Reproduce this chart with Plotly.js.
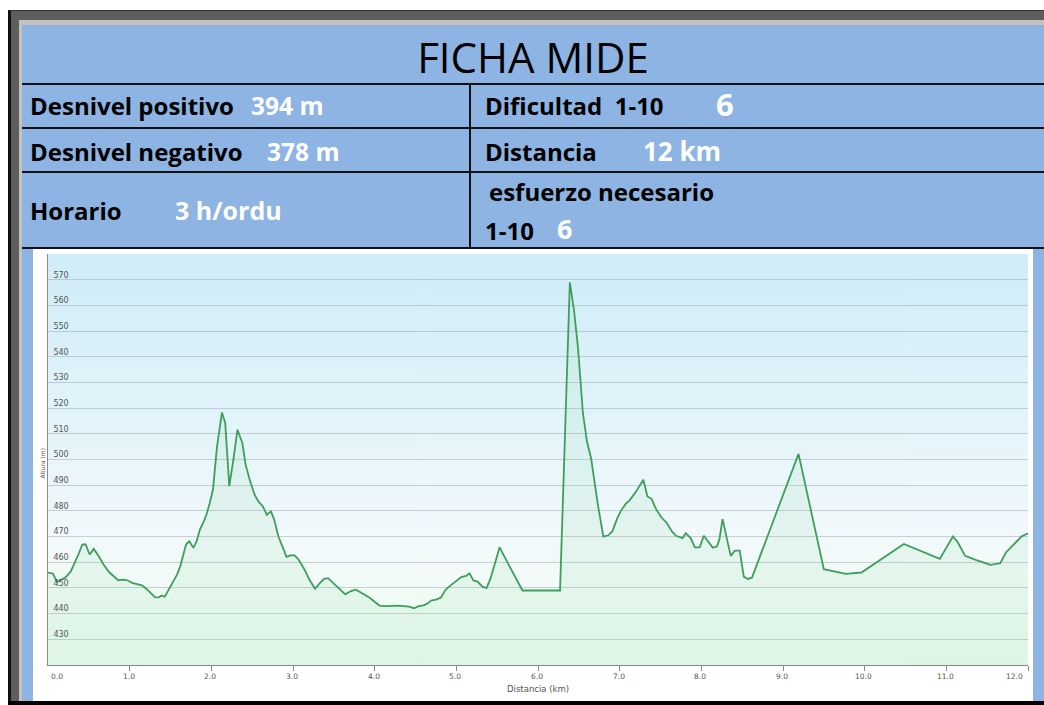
<!DOCTYPE html>
<html>
<head>
<meta charset="utf-8">
<script src="https://cdn.plot.ly/plotly-3.0.1.min.js"></script>
<style>
  html,body{margin:0;padding:0;}
  body{width:1044px;height:705px;overflow:hidden;position:relative;background:#fff;font-family:"Open Sans",sans-serif;}
  .abs{position:absolute;}
  .t{position:absolute;white-space:nowrap;font-weight:700;font-size:24px;line-height:30px;height:30px;color:#000;}
  .w{color:#fff;}
</style>
</head>
<body>
<div class="abs" style="left:8px;top:10px;right:0;bottom:0;background:#5e5e5e;border-left:3px solid #111;border-top:1px solid #333;"></div>
<div class="abs" style="left:19px;top:20px;right:0;bottom:4px;background:#c2c2c2;"></div>
<div class="abs" style="left:22px;top:25px;right:0;bottom:4px;background:#8db4e2;"></div>
<div class="abs" style="left:8px;right:0;top:701px;bottom:0;background:#000;"></div>

<!-- table lines -->
<div class="abs" style="left:22px;right:0;top:83px;height:2px;background:#111;"></div>
<div class="abs" style="left:22px;right:0;top:127px;height:2px;background:#111;"></div>
<div class="abs" style="left:22px;right:0;top:171px;height:2px;background:#111;"></div>
<div class="abs" style="left:22px;right:0;top:247px;height:2px;background:#111;"></div>
<div class="abs" style="left:469px;width:2px;top:84px;height:164px;background:#111;"></div>

<!-- table text -->
<div class="t" style="left:0;width:1066px;text-align:center;top:32px;height:50px;line-height:50px;font-size:42px;font-weight:500;">FICHA MIDE</div>

<div class="t" style="left:30px;top:91px;">Desnivel positivo</div>
<div class="t w" style="left:251px;top:91px;font-size:24.5px;">394 m</div>
<div class="t" style="left:485px;top:91px;">Dificultad&nbsp; 1-10</div>
<div class="t w" style="left:716px;top:89px;font-size:31px;">6</div>

<div class="t" style="left:30px;top:137px;">Desnivel negativo</div>
<div class="t w" style="left:267px;top:137px;font-size:24.5px;">378 m</div>
<div class="t" style="left:485px;top:137px;">Distancia</div>
<div class="t w" style="left:643px;top:136px;font-size:26px;">12 km</div>

<div class="t" style="left:30px;top:196px;">Horario</div>
<div class="t w" style="left:175px;top:195px;font-size:25px;">3 h/ordu</div>
<div class="t" style="left:489px;top:177px;">esfuerzo necesario</div>
<div class="t" style="left:485px;top:216px;">1-10</div>
<div class="t w" style="left:557px;top:214px;font-size:27px;">6</div>

<div id="chart" class="abs" style="left:33px;top:249px;width:1000px;height:452px;background:#fff;"></div>

<script>
const distKm = [
  0.00,0.06,0.11,0.21,0.28,0.34,0.38,0.42,0.46,0.51,0.56,0.62,0.68,0.75,0.81,0.86,0.93,0.98,
  1.03,1.10,1.15,1.20,1.26,1.31,1.35,1.39,1.43,1.48,1.53,1.58,1.62,1.66,1.69,1.73,1.78,1.82,
  1.86,1.90,1.94,1.98,2.02,2.07,2.13,2.17,2.22,2.27,2.32,2.38,2.42,2.47,2.53,2.58,2.63,2.68,
  2.73,2.77,2.82,2.87,2.92,2.97,3.02,3.07,3.14,3.20,3.27,3.32,3.38,3.43,3.48,3.54,3.60,3.64,
  3.71,3.77,3.82,3.88,3.94,4.00,4.06,4.13,4.20,4.28,4.36,4.42,4.48,4.54,4.60,4.65,4.69,4.75,
  4.81,4.87,4.93,5.01,5.06,5.12,5.16,5.21,5.26,5.32,5.37,5.42,5.53,5.67,5.81,6.27,6.39,6.44,
  6.49,6.55,6.60,6.65,6.73,6.80,6.86,6.91,6.97,7.02,7.08,7.12,7.20,7.29,7.34,7.39,7.45,7.51,
  7.58,7.64,7.69,7.77,7.81,7.87,7.92,7.98,8.03,8.09,8.14,8.19,8.22,8.26,8.32,8.36,8.41,8.47,
  8.52,8.57,8.62,9.19,9.50,9.77,9.96,10.48,10.92,11.08,11.14,11.23,11.36,11.54,11.66,11.73,
  11.92,12.00
];
const altM = [
  456.0,455.6,452.3,454.0,456.5,460.4,463.6,466.9,467.0,463.0,465.2,462.4,459.1,456.1,454.2,453.0,453.2,452.9,
  452.0,451.3,451.0,449.8,447.8,446.4,446.3,447.0,446.6,449.4,452.4,455.2,458.5,463.0,466.9,468.2,465.6,468.2,
  472.7,475.3,478.5,483.0,488.3,505.1,518.3,514.2,489.6,500.0,511.6,506.4,498.0,492.1,486.3,483.5,481.8,478.5,
  479.8,476.6,470.1,466.2,462.1,462.7,462.7,461.0,457.2,453.3,449.7,451.6,453.5,453.8,452.3,450.7,448.8,447.5,
  448.8,449.3,448.4,447.2,446.2,444.6,443.1,442.9,443.1,443.1,442.9,442.7,442.1,442.9,443.2,444.0,445.1,445.4,
  446.2,449.4,451.0,453.1,454.2,454.7,455.7,452.9,452.5,450.5,449.9,453.8,465.8,457.3,449.0,449.0,569.0,558.3,
  543.4,518.1,507.0,500.5,483.0,470.0,470.5,472.0,477.1,480.3,483.0,484.0,487.5,492.1,485.6,484.7,480.4,477.5,
  475.2,472.0,470.3,469.4,471.3,469.4,465.8,465.8,470.3,467.8,465.7,466.1,468.7,476.8,467.4,462.5,464.5,464.5,
  454.4,453.5,454.0,502.2,457.3,455.5,456.0,467.1,461.3,470.0,467.8,462.5,460.9,459.0,459.6,463.8,
  470.0,471.3
];
const xTickVals = [0,1,2,3,4,5,6,7,8,9,10,11,12];
const xTickText = ['0.0','1.0','2.0','3.0','4.0','5.0','6.0','7.0','8.0','9.0','10.0','11.0','12.0'];
const yTickVals = [430,440,450,460,470,480,490,500,510,520,530,540,550,560,570];
const xRange = [0, 12];
const yRange = [420, 580];

function gradientURL(){
  const c = document.createElement('canvas');
  c.width = 4; c.height = 412;
  const g = c.getContext('2d');
  const gr = g.createLinearGradient(0,0,0,412);
  gr.addColorStop(0.00,'#cfecf8');
  gr.addColorStop(0.35,'#e0f3fa');
  gr.addColorStop(0.68,'#f2f9fc');
  gr.addColorStop(0.78,'#f3fbf8');
  gr.addColorStop(1.00,'#eafbef');
  g.fillStyle = gr;
  g.fillRect(0,0,4,412);
  return c.toDataURL();
}

const trace = {
  x: distKm, y: altM, type: 'scatter', mode: 'lines',
  line: {color: '#3f9e5c', width: 1.8},
  fill: 'tozeroy', fillcolor: 'rgba(110,205,135,0.10)',
  hoverinfo: 'skip'
};

// x tick labels as axis-anchored annotations (first label left-aligned, last right-aligned, as in the reference)
const xLabelAnns = xTickVals.map((v, i) => ({
  text: xTickText[i], xref: 'x', yref: 'paper', x: v, y: 0,
  xanchor: i === 0 ? 'left' : (i === xTickVals.length - 1 ? 'right' : 'center'),
  xshift: i === 0 ? 1 : (i === xTickVals.length - 1 ? -3 : -1),
  yanchor: 'top', yshift: -5, showarrow: false,
  font: {family: 'DejaVu Sans', size: 7.5, color: '#555'}
}));

const layout = {
  width: 1000, height: 452,
  margin: {l: 15, r: 5, t: 5, b: 36, pad: 0},
  paper_bgcolor: '#ffffff',
  plot_bgcolor: 'rgba(0,0,0,0)',
  showlegend: false,
  images: [{source: gradientURL(), xref: 'paper', yref: 'paper', x: 0, y: 1, sizex: 1, sizey: 1,
            sizing: 'stretch', xanchor: 'left', yanchor: 'top', layer: 'below'}],
  xaxis: {
    range: xRange, tickvals: xTickVals, showticklabels: false,
    ticks: 'outside', ticklen: 5, tickcolor: '#8a8a8a', tickwidth: 1,
    showline: true, linecolor: '#8a8a8a', linewidth: 1,
    showgrid: false, zeroline: false, fixedrange: true
  },
  yaxis: {
    range: yRange, tickvals: yTickVals,
    ticklabelposition: 'inside', ticklabelshift: -5, ticklabelstandoff: 4,
    ticks: '', showline: true, linecolor: '#8a8a8a', linewidth: 1,
    showgrid: true, gridcolor: 'rgba(150,162,168,0.48)', gridwidth: 1,
    zeroline: false, fixedrange: true,
    tickfont: {family: 'DejaVu Sans', size: 8, color: '#555'}
  },
  annotations: [
    {text: 'Altura (m)', xref: 'paper', yref: 'paper', x: 0, y: 0.5, xanchor: 'center', yanchor: 'middle',
     xshift: -6, yshift: -4, textangle: -90, showarrow: false,
     font: {family: 'DejaVu Sans', size: 6, color: '#555'}},
    {text: 'Distancia (km)', xref: 'paper', yref: 'paper', x: 0.5, y: 0, xanchor: 'center', yanchor: 'middle',
     yshift: -24, showarrow: false,
     font: {family: 'DejaVu Sans', size: 8.5, color: '#555'}}
  ].concat(xLabelAnns)
};

Plotly.newPlot('chart', [trace], layout, {displayModeBar: false, staticPlot: true});
</script>
</body>
</html>
